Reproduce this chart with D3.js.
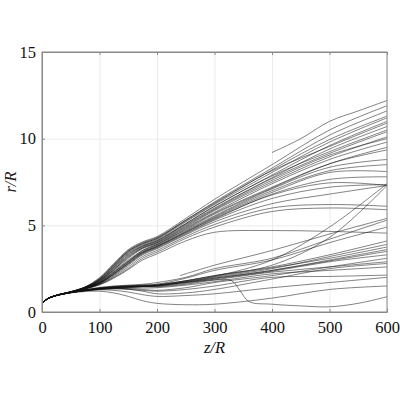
<!DOCTYPE html>
<html lang="en">
<head>
<meta charset="utf-8">
<title>r/R vs z/R</title>
<script src="https://d3js.org/d3.v7.min.js"></script>
<style>
body { margin: 0; background: #fff; }
.axis text { font-family: "Liberation Serif", "Times New Roman", serif; font-size: 16.5px; fill: #111; }
.axis path { stroke: #888; }
.axis line { stroke: #888; }
.grid line { stroke: #ebebeb; }
.grid path { display: none; }
.lbl { font-family: "Liberation Serif", "Times New Roman", serif; font-size: 16.5px; font-style: italic; fill: #111; }
</style>
</head>
<body>
<div id="chart"></div>
<script>
// common z positions for the full-length curves
var zGrid = [2, 10, 25, 50, 75, 100, 125, 150, 175, 200, 250, 300, 400, 500, 600]

// upper branch (curves that bend up after z/R ~ 100)
var upperR = [
  [.55,.78,.97,1.18,1.45,1.98,2.8,3.6,4.05,4.35,5.4,6.5,8.5,10.5,11.9],
  [.56,.77,.96,1.17,1.44,1.95,2.75,3.55,4.0,4.3,5.3,6.35,8.3,10.2,11.6],
  [.55,.78,.97,1.16,1.43,1.9,2.7,3.5,3.95,4.25,5.25,6.25,8.2,9.95,11.3],
  [.54,.76,.95,1.15,1.42,1.88,2.65,3.45,3.9,4.2,5.2,6.2,8.05,9.8,11.2],
  [.55,.77,.96,1.16,1.42,1.85,2.6,3.4,3.85,4.15,5.1,6.1,7.9,9.6,11.0],
  [.55,.77,.96,1.15,1.4,1.82,2.55,3.3,3.8,4.1,5.05,6.0,7.75,9.4,10.7],
  [.56,.78,.97,1.17,1.41,1.8,2.5,3.25,3.75,4.05,5.0,5.95,7.7,9.15,10.4],
  [.55,.76,.95,1.14,1.39,1.78,2.45,3.2,3.7,4.0,4.9,5.85,7.5,8.95,10.1],
  [.54,.77,.96,1.15,1.38,1.75,2.4,3.1,3.65,3.95,4.85,5.75,7.4,8.8,9.8],
  [.55,.78,.96,1.16,1.38,1.72,2.35,3.0,3.55,3.9,4.8,5.7,7.2,8.55,9.35],
  [.55,.77,.95,1.14,1.37,1.7,2.3,2.95,3.5,3.85,4.7,5.55,7.1,8.35,8.8],
  [.54,.76,.95,1.13,1.36,1.68,2.25,2.9,3.45,3.8,4.6,5.45,6.9,8.05,8.1],
  [.55,.77,.96,1.15,1.36,1.66,2.2,2.8,3.4,3.75,4.55,5.35,6.8,7.65,7.8],
  [.55,.77,.96,1.14,1.35,1.65,2.15,2.75,3.35,3.7,4.5,5.3,6.55,7.2,7.35],
  [.56,.78,.96,1.15,1.35,1.62,2.1,2.7,3.3,3.65,4.45,5.2,6.25,6.8,7.3],
  [.55,.77,.95,1.13,1.34,1.6,2.05,2.6,3.2,3.55,4.35,5.05,6.0,6.2,6.1],
  [.55,.76,.95,1.13,1.33,1.58,2.0,2.5,3.1,3.45,4.25,4.9,5.8,6.0,5.9],
  [.55,.77,.95,1.13,1.33,1.56,1.95,2.45,3.0,3.35,4.1,4.6,4.7,4.65,4.55],
  [.55,.78,.97,1.17,1.43,1.9,2.72,3.5,3.95,4.25,5.3,6.3,8.15,9.55,10.9],
  [.54,.77,.96,1.16,1.4,1.83,2.58,3.35,3.8,4.1,5.1,6.1,7.85,9.25,10.5],
  [.55,.76,.95,1.15,1.39,1.76,2.45,3.15,3.7,4.0,4.95,5.9,7.6,9.05,10.0],
  [.55,.77,.96,1.15,1.37,1.7,2.3,2.9,3.55,3.9,4.75,5.65,7.15,8.55,9.5],
  [.55,.77,.95,1.14,1.36,1.67,2.2,2.85,3.45,3.8,4.65,5.5,7.0,8.15,8.5],
  [.55,.77,.96,1.15,1.36,1.65,2.2,2.8,3.4,3.75,4.6,5.4,6.75,7.45,7.3]
]

// lower branch (curves that stay near r/R ~ 1.5 up to z/R ~ 200)
var lowerR = [
  [.55,.78,.96,1.15,1.3,1.42,1.5,1.55,1.6,1.7,2.0,2.5,3.1,4.2,5.3],
  [.55,.77,.96,1.14,1.28,1.4,1.48,1.52,1.55,1.6,1.95,2.4,3.0,4.0,4.9],
  [.55,.77,.95,1.13,1.27,1.38,1.45,1.5,1.52,1.55,1.8,2.1,2.6,3.3,4.1],
  [.55,.78,.96,1.14,1.27,1.37,1.44,1.48,1.5,1.52,1.75,2.0,2.5,3.2,3.9],
  [.54,.77,.95,1.13,1.26,1.36,1.42,1.46,1.48,1.5,1.7,1.95,2.4,3.0,3.6],
  [.55,.77,.95,1.13,1.25,1.35,1.4,1.45,1.47,1.48,1.65,1.9,2.35,2.9,3.3],
  [.55,.76,.94,1.12,1.24,1.33,1.38,1.42,1.45,1.45,1.6,1.85,2.3,2.6,2.9],
  [.55,.77,.95,1.12,1.23,1.32,1.36,1.38,1.38,1.4,1.55,1.75,2.2,2.4,2.6],
  [.55,.76,.94,1.11,1.22,1.3,1.33,1.3,1.25,1.2,1.3,1.5,2.0,2.05,2.13],
  [.55,.77,.95,1.12,1.22,1.28,1.25,1.15,1.0,0.9,0.95,1.05,1.4,1.7,2.0],
  [.55,.76,.94,1.1,1.18,1.2,1.1,0.9,0.65,0.5,0.42,0.45,0.8,1.3,1.5],
  [.55,.77,.95,1.13,1.26,1.37,1.45,1.5,1.55,1.6,1.8,2.05,2.55,3.1,3.75],
  [.55,.77,.95,1.12,1.25,1.35,1.42,1.46,1.5,1.53,1.72,1.95,2.4,2.95,3.5],
  [.55,.76,.95,1.12,1.24,1.33,1.38,1.35,1.3,1.25,1.4,1.7,2.1,2.6,3.1],
  [.55,.77,.95,1.12,1.25,1.34,1.38,1.32,1.2,1.05,1.1,1.3,1.9,2.5,2.8],
  [.55,.77,.95,1.13,1.26,1.36,1.42,1.46,1.5,1.55,1.8,2.1,2.7,4.3,7.3],
  [.55,.77,.95,1.12,1.25,1.34,1.4,1.44,1.47,1.5,1.75,2.05,3.0,4.9,7.4]
]

// curve with a sudden drop near z/R ~ 340
var dropZ = [2,10,25,50,75,100,150,200,250,300,330,345,360,400,450,500,550,600]
var dropR = [.55,.77,.95,1.12,1.23,1.3,1.4,1.55,1.7,1.85,1.8,1.2,0.6,0.45,0.35,0.3,0.5,0.88]

// short curves that start mid-way
var shortUpZ = [400, 450, 500, 550, 600]
var shortUpR = [9.2, 10.0, 11.0, 11.6, 12.2]
var shortLowZ = [240, 300, 400, 500, 600]
var shortLowR = [2.1, 2.7, 3.55, 4.5, 5.4]

var xTicks = [0, 100, 200, 300, 400, 500, 600]
var yTicks = [0, 5, 10, 15]

var w = 400, h = 400
var mLeft = 42, mRight = 387, mTop = 52, mBottom = 312

var svg = d3.select("#chart").append("svg")
  .attr("width", w).attr("height", h)

var xScale = d3.scaleLinear().domain([0, 600]).range([mLeft, mRight])
var yScale = d3.scaleLinear().domain([0, 15]).range([mBottom, mTop])

// grid
svg.append("g").attr("class", "grid")
  .attr("transform", "translate(0," + mBottom + ")")
  .call(d3.axisBottom(xScale).tickValues(xTicks).tickSize(-(mBottom - mTop)).tickFormat(""))
svg.append("g").attr("class", "grid")
  .attr("transform", "translate(" + mLeft + ",0)")
  .call(d3.axisLeft(yScale).tickValues(yTicks).tickSize(-(mRight - mLeft)).tickFormat(""))

// all series as [z, r] lists
var series = []
upperR.forEach(function(r) { series.push(zGrid.map(function(z, i) { return [z, r[i]] })) })
lowerR.forEach(function(r) { series.push(zGrid.map(function(z, i) { return [z, r[i]] })) })
series.push(dropZ.map(function(z, i) { return [z, dropR[i]] }))
series.push(shortUpZ.map(function(z, i) { return [z, shortUpR[i]] }))
series.push(shortLowZ.map(function(z, i) { return [z, shortLowR[i]] }))

var line = d3.line()
  .x(function(d) { return xScale(d[0]) })
  .y(function(d) { return yScale(d[1]) })
  .curve(d3.curveCatmullRom.alpha(0.5))

svg.append("g").selectAll("path")
  .data(series)
  .enter()
  .append("path")
  .attr("d", line)
  .attr("fill", "none")
  .attr("stroke", "#111")
  .attr("stroke-width", 0.7)
  .attr("stroke-opacity", 0.75)

// frame
svg.append("rect")
  .attr("x", mLeft).attr("y", mTop)
  .attr("width", mRight - mLeft).attr("height", mBottom - mTop)
  .attr("fill", "none").attr("stroke", "#888").attr("stroke-width", 1)

// axes with inward ticks
svg.append("g").attr("class", "axis")
  .attr("transform", "translate(0," + mBottom + ")")
  .call(d3.axisBottom(xScale).tickValues(xTicks).tickSizeInner(-3).tickSizeOuter(0).tickPadding(9))
svg.append("g").attr("class", "axis")
  .attr("transform", "translate(" + mLeft + ",0)")
  .call(d3.axisLeft(yScale).tickValues(yTicks).tickSizeInner(-3).tickSizeOuter(0).tickPadding(6))
svg.append("g").attr("class", "axis")
  .attr("transform", "translate(0," + mTop + ")")
  .call(d3.axisTop(xScale).tickValues(xTicks).tickSizeInner(-3).tickSizeOuter(0).tickFormat(""))

svg.append("text").attr("class", "lbl")
  .attr("x", (mLeft + mRight) / 2).attr("y", 353)
  .attr("text-anchor", "middle")
  .text("z/R")
svg.append("text").attr("class", "lbl")
  .attr("transform", "translate(16," + ((mTop + mBottom) / 2) + ") rotate(-90)")
  .attr("text-anchor", "middle")
  .text("r/R")
</script>
</body>
</html>
